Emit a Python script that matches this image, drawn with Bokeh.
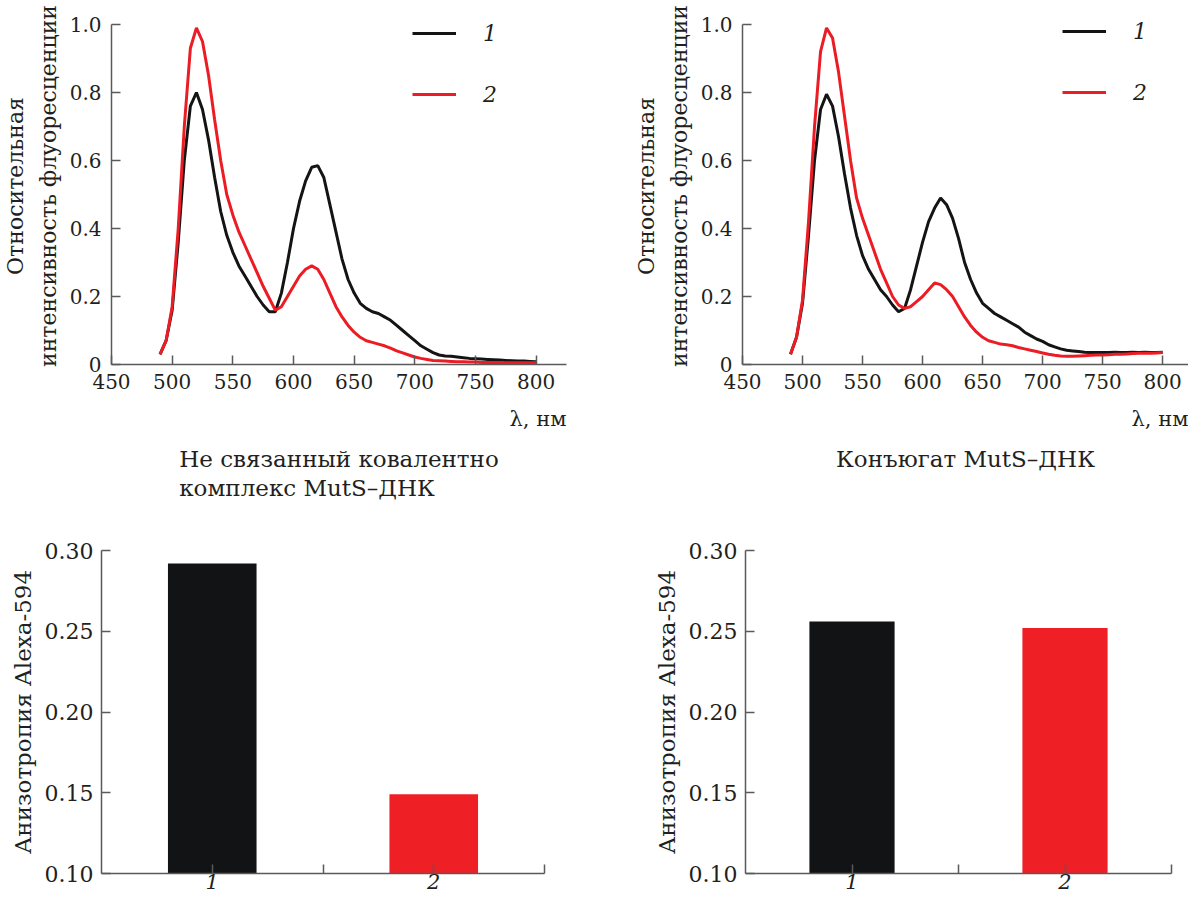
from bokeh.plotting import figure
from bokeh.layouts import column, row
from bokeh.models import (FixedTicker, CustomJSTickFormatter, Range1d,
                          NumeralTickFormatter, Title)
from bokeh.embed import file_html
from bokeh.resources import INLINE

# ---------------- data ----------------
wl = list(range(490, 801, 5))

free_1 = [0.03, 0.07, 0.16, 0.36, 0.60, 0.76, 0.80, 0.75, 0.66, 0.55,
          0.45, 0.38, 0.33, 0.29, 0.26, 0.23, 0.20, 0.175, 0.155, 0.155,
          0.21, 0.30, 0.40, 0.48, 0.54, 0.58, 0.585, 0.55, 0.47, 0.39,
          0.31, 0.25, 0.21, 0.18, 0.165, 0.155, 0.15, 0.14, 0.13, 0.115,
          0.10, 0.085, 0.07, 0.055, 0.045, 0.035, 0.028, 0.025, 0.024, 0.022,
          0.02, 0.018, 0.017, 0.016, 0.015, 0.014, 0.013, 0.012, 0.011, 0.01,
          0.01, 0.009, 0.008]
free_2 = [0.03, 0.07, 0.17, 0.40, 0.70, 0.93, 0.99, 0.95, 0.85, 0.72,
          0.60, 0.50, 0.44, 0.39, 0.35, 0.31, 0.27, 0.23, 0.195, 0.16,
          0.17, 0.20, 0.23, 0.26, 0.28, 0.29, 0.28, 0.25, 0.21, 0.17,
          0.14, 0.115, 0.095, 0.08, 0.07, 0.065, 0.06, 0.055, 0.048, 0.04,
          0.034, 0.028, 0.022, 0.018, 0.015, 0.012, 0.011, 0.01, 0.009, 0.008,
          0.008, 0.007, 0.007, 0.006, 0.006, 0.006, 0.006, 0.005, 0.005, 0.005,
          0.005, 0.005, 0.005]
conj_1 = [0.03, 0.08, 0.18, 0.38, 0.60, 0.75, 0.795, 0.76, 0.67, 0.56,
          0.46, 0.38, 0.32, 0.28, 0.25, 0.22, 0.20, 0.175, 0.155, 0.165,
          0.22, 0.29, 0.36, 0.42, 0.46, 0.49, 0.47, 0.43, 0.37, 0.30,
          0.25, 0.21, 0.18, 0.165, 0.15, 0.14, 0.13, 0.12, 0.11, 0.095,
          0.085, 0.075, 0.068, 0.058, 0.052, 0.046, 0.042, 0.04, 0.038, 0.036,
          0.035, 0.035, 0.035, 0.035, 0.036, 0.035, 0.035, 0.036, 0.035, 0.036,
          0.035, 0.035, 0.036]
conj_2 = [0.03, 0.08, 0.19, 0.42, 0.70, 0.92, 0.99, 0.96, 0.86, 0.73,
          0.60, 0.49, 0.43, 0.38, 0.33, 0.28, 0.24, 0.20, 0.175, 0.165,
          0.17, 0.185, 0.20, 0.22, 0.24, 0.235, 0.22, 0.20, 0.17, 0.14,
          0.115, 0.095, 0.08, 0.07, 0.065, 0.06, 0.058, 0.055, 0.05, 0.046,
          0.042, 0.038, 0.034, 0.03, 0.027, 0.025, 0.024, 0.024, 0.025, 0.026,
          0.027, 0.028, 0.028, 0.029, 0.03, 0.03, 0.031, 0.032, 0.033, 0.033,
          0.033, 0.034, 0.035]

bar_cats = ["1", "2"]
aniso_free = [0.292, 0.149]
aniso_conj = [0.256, 0.252]

series_labels = ["1", "2"]
y_ticks_top = [0, 0.2, 0.4, 0.6, 0.8, 1.0]
x_ticks_top = [450, 500, 550, 600, 650, 700, 750, 800]
y_ticks_bar = [0.10, 0.15, 0.20, 0.25, 0.30]

title_free = ["Не связанный ковалентно", "комплекс MutS\u2013ДНК"]
title_conj = ["Конъюгат MutS\u2013ДНК"]
x_label_top = "\u03bb, нм"
y_label_top = "Относительная\nинтенсивность флуоресценции"
y_label_bar = "Анизотропия Alexa-594"

# ---------------- style ----------------
FONT = "DejaVu Serif"
TXT = "#231f20"
AX = "#5a5a5a"
BLACK = "#141414"
RED = "#ec1c24"
BAR_BLACK = "#111314"
BAR_RED = "#ee2026"


def style_axes(p, tick_size, label_size):
    p.outline_line_color = None
    p.xgrid.visible = False
    p.ygrid.visible = False
    p.background_fill_color = "white"
    p.border_fill_color = "white"
    for ax in (p.xaxis[0], p.yaxis[0]):
        ax.axis_line_color = AX
        ax.axis_line_width = 1.5
        ax.major_tick_line_color = AX
        ax.major_tick_line_width = 1.5
        ax.major_tick_in = 9
        ax.major_tick_out = 0
        ax.minor_tick_line_color = None
        ax.major_label_text_font = FONT
        ax.major_label_text_font_size = tick_size
        ax.major_label_text_color = TXT
        ax.axis_label_text_font = FONT
        ax.axis_label_text_font_size = label_size
        ax.axis_label_text_font_style = "normal"
        ax.axis_label_text_color = TXT


def below_title(p, text, align, size, standoff=0, line_height=1.15):
    t = Title(text=text, align=align, text_font=FONT, text_font_size=size,
              text_font_style="normal", text_color=TXT, standoff=standoff,
              text_line_height=line_height)
    p.add_layout(t, "below")
    return t


def spectrum_plot(width, border_left, border_right, x_end, y1, y2,
                  titles, legend_x, legend_y):
    p = figure(width=width, height=512, output_backend="svg",
               toolbar_location=None, x_range=Range1d(450, x_end),
               y_range=Range1d(0, 1.05),
               min_border_left=border_left, min_border_right=border_right,
               min_border_top=7, min_border_bottom=148)
    p.line(wl, y1, line_color=BLACK, line_width=3, legend_label=series_labels[0])
    p.line(wl, y2, line_color=RED, line_width=3, legend_label=series_labels[1])
    style_axes(p, "20px", "22px")
    p.yaxis.bounds = (0, 1.0)
    p.xaxis.ticker = FixedTicker(ticks=x_ticks_top)
    p.yaxis.ticker = FixedTicker(ticks=y_ticks_top)
    p.yaxis.formatter = CustomJSTickFormatter(
        code="return tick == 0 ? '0' : tick.toFixed(1);")
    p.xaxis.major_label_standoff = 9
    p.yaxis.major_label_standoff = 10
    p.yaxis.axis_label = y_label_top
    p.yaxis.axis_label_standoff = 6
    p.yaxis.axis_label_text_line_height = 1.3

    lg = p.legend[0]
    lg.location = (legend_x, legend_y)
    lg.padding = 0
    lg.margin = 0
    lg.spacing = 35
    lg.glyph_width = 44
    lg.glyph_height = 26
    lg.label_height = 26
    lg.label_standoff = 27
    lg.label_text_font = FONT
    lg.label_text_font_style = "italic"
    lg.label_text_font_size = "22px"
    lg.label_text_color = TXT
    lg.background_fill_alpha = 0
    lg.border_line_alpha = 0

    below_title(p, x_label_top, "right", "21px", standoff=26)
    below_title(p, "\n".join(titles), "center", "23px", standoff=0)
    return p


p1 = spectrum_plot(592, 106, 26, 825, free_1, free_2, title_free, 301, 257)
p2 = spectrum_plot(596, 150, 0, 821.5, conj_1, conj_2, title_conj, 320, 259)


def bar_plot(width, border_left, border_right, values):
    xs = [i + 0.5 for i in range(len(bar_cats))]
    p = figure(width=width, height=387, output_backend="svg",
               toolbar_location=None,
               x_range=Range1d(0, len(bar_cats)), y_range=Range1d(0.10, 0.30),
               min_border_left=border_left, min_border_right=border_right,
               min_border_top=38, min_border_bottom=26)
    p.vbar(x=xs, top=values, bottom=0, width=0.4,
           fill_color=[BAR_BLACK, BAR_RED], line_color=None)
    style_axes(p, "22px", "23px")
    p.yaxis.ticker = FixedTicker(ticks=y_ticks_bar)
    p.yaxis.formatter = NumeralTickFormatter(format="0.00")
    p.yaxis.major_label_standoff = 8
    p.yaxis.axis_label = y_label_bar
    p.yaxis.axis_label_standoff = 6
    ticks = sorted(set(xs + [i + 1 for i in range(len(bar_cats))]))
    p.xaxis.ticker = FixedTicker(ticks=ticks)
    p.xaxis.formatter = CustomJSTickFormatter(
        args=dict(labels=bar_cats),
        code="const i = tick - 0.5; return Number.isInteger(i) ? labels[i] : '';")
    p.xaxis.major_label_text_font_style = "italic"
    p.xaxis.major_label_standoff = 0
    p.xaxis.major_label_text_font_size = "21px"
    return p


p3 = bar_plot(592, 101, 48, aniso_free)
p4 = bar_plot(596, 153, 17, aniso_conj)

layout = column(row(p1, p2), row(p3, p4))
open("out.html", "w").write(file_html(layout, INLINE))
